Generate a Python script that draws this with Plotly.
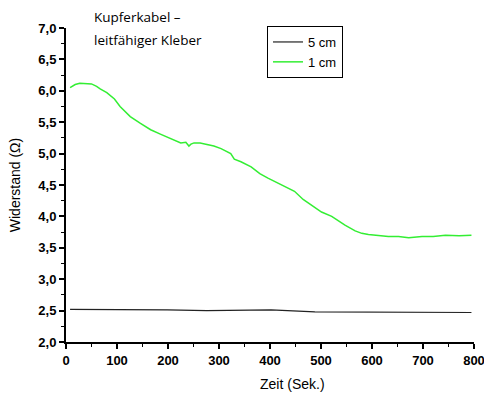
import plotly.graph_objects as go

t_1cm = [8, 18, 27, 40, 50, 60, 67, 80, 87, 95, 106, 126, 146, 166, 185, 205, 225, 235, 241, 245, 251,
         263, 277, 290, 304, 315, 323, 330, 343, 363, 380, 396, 410, 422, 435, 448, 465, 488, 501, 521, 535,
         547, 567, 580, 593, 612, 632, 652, 672, 698, 720, 744, 771, 795]
v_1cm = [6.05, 6.10, 6.12, 6.12, 6.11, 6.07, 6.03, 5.97, 5.93, 5.87, 5.75, 5.59, 5.48, 5.38, 5.31, 5.24, 5.17, 5.18, 5.12, 5.15, 5.17,
         5.17, 5.15, 5.12, 5.08, 5.04, 5.00, 4.91, 4.87, 4.79, 4.68, 4.61, 4.55, 4.50, 4.45, 4.40, 4.27, 4.15, 4.07, 4.00, 3.92,
         3.86, 3.77, 3.73, 3.71, 3.69, 3.68, 3.68, 3.66, 3.68, 3.68, 3.70, 3.69, 3.70]

t_5cm = [8, 100, 199, 276, 323, 402, 488, 600, 705, 795]
v_5cm = [2.52, 2.52, 2.51, 2.50, 2.50, 2.51, 2.48, 2.48, 2.47, 2.47]

FONT = "Liberation Sans, Arial"

fig = go.Figure()
fig.add_trace(go.Scatter(x=t_5cm, y=v_5cm, mode="lines", name="5 cm",
                         line=dict(color="#222222", width=1.2)))
fig.add_trace(go.Scatter(x=t_1cm, y=v_1cm, mode="lines", name="1 cm",
                         line=dict(color="#33ee33", width=1.5)))

axis_common = dict(showline=True, linecolor="black", linewidth=2, ticks="outside",
                   ticklen=5, tickwidth=1.5, tickcolor="black", showgrid=False, zeroline=False,
                   mirror=False, ticklabeloverflow="allow", automargin=False,
                   tickfont=dict(family=FONT, size=13, color="black", weight="bold"),
                   minor=dict(ticks="outside", ticklen=3, tickwidth=1.2, tickcolor="black", showgrid=False))

fig.update_layout(
    width=484, height=397,
    margin=dict(l=66, r=10, t=28, b=55),
    plot_bgcolor="white", paper_bgcolor="white",
    separators=",.",
    showlegend=True,
    font=dict(family=FONT, color="black"),
    legend=dict(
        x=(267 - 66) / 408, y=1 + (28 - 26) / 314, xanchor="left", yanchor="top",
        bordercolor="black", borderwidth=1, bgcolor="white",
        font=dict(family=FONT, size=13, color="black"),
        tracegroupgap=0, itemwidth=30),
)

fig.update_xaxes(range=[0, 800], tickvals=[0, 100, 200, 300, 400, 500, 600, 700, 800],
                 minor_dtick=50, **axis_common)
fig.update_yaxes(range=[2, 7], dtick=0.5, tickformat=".1f", minor_dtick=0.25,
                 title=dict(text="Widerstand (Ω)", font=dict(family=FONT, size=14), standoff=14),
                 **axis_common)

fig.add_annotation(text="Zeit (Sek.)", xref="paper", yref="paper",
                   x=(292 - 66) / 408, y=-(384 - 342) / 314, xanchor="center", yanchor="middle",
                   showarrow=False, font=dict(family=FONT, size=14, color="black"))

fig.add_annotation(text="Kupferkabel –", xref="paper", yref="paper",
                   x=(92 - 66) / 408, y=1 + (28 - 17) / 314, xanchor="left", yanchor="middle",
                   showarrow=False, align="left",
                   font=dict(family="Open Sans", size=13.5, color="black"))
fig.add_annotation(text="leitfähiger Kleber", xref="paper", yref="paper",
                   x=(92 - 66) / 408, y=1 + (28 - 40) / 314, xanchor="left", yanchor="middle",
                   showarrow=False, align="left",
                   font=dict(family="Open Sans", size=13.5, color="black"))

fig.write_html("out.html")
